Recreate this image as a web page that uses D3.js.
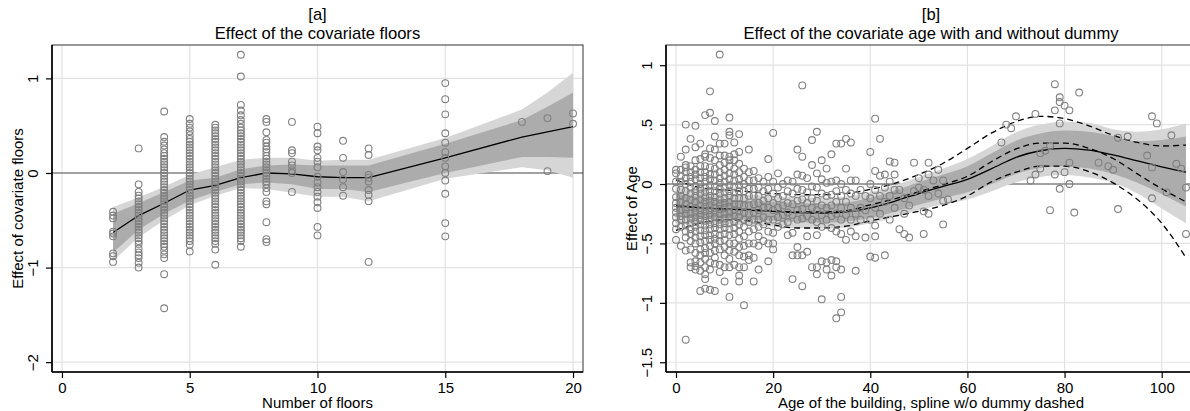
<!DOCTYPE html>
<html>
<head>
<meta charset="utf-8">
<script src="https://cdn.jsdelivr.net/npm/d3@7"></script>
<style>
body { margin: 0; background: #fff; }
text { font-family: "Liberation Sans", Arial, Helvetica, sans-serif; fill: #000; }
</style>
</head>
<body>
<svg id="chart" width="1190" height="411"></svg>
<script>
// ---- panel [a]: floors ----
var floorGrid = [2, 3, 4, 5, 6, 7, 8, 9, 10, 11, 12, 15, 18, 19, 20];
var floorFit = [-0.63, -0.45, -0.32, -0.18, -0.13, -0.05, 0.0, -0.01, -0.04, -0.05, -0.05, 0.16, 0.38, 0.435, 0.49];
var floorInnerLo = [-0.84, -0.6, -0.43, -0.29, -0.2, -0.12, -0.1, -0.12, -0.17, -0.17, -0.2, 0.0, 0.17, 0.17, 0.16];
var floorInnerHi = [-0.43, -0.32, -0.2, -0.08, -0.05, 0.04, 0.08, 0.09, 0.08, 0.08, 0.08, 0.31, 0.56, 0.7, 0.85];
var floorOuterLo = [-0.93, -0.68, -0.5, -0.34, -0.24, -0.16, -0.17, -0.21, -0.25, -0.25, -0.3, -0.06, 0.06, 0.03, -0.05];
var floorOuterHi = [-0.36, -0.26, -0.145, -0.02, 0.06, 0.14, 0.16, 0.16, 0.13, 0.14, 0.14, 0.37, 0.67, 0.85, 1.06];

var floorCols = [2, 3, 4, 5, 6, 7, 8, 9, 10, 11, 12, 15, 18, 19, 20];
var floorVals = [
  [-0.41, -0.45, -0.48, -0.62, -0.64, -0.67, -0.85, -0.88, -0.94],
  [0.26, -0.12, -0.2, -0.24, -0.27, -0.3, -0.33, -0.36, -0.39, -0.42, -0.45, -0.48, -0.51, -0.54, -0.57, -0.6, -0.63, -0.66, -0.69, -0.72, -0.75, -0.8, -0.84, -0.87, -0.9, -0.95, -1.0],
  [0.65, 0.38, 0.33, 0.29, 0.25, 0.21, 0.18, 0.15, 0.12, 0.09, 0.06, 0.03, 0.0, -0.03, -0.06, -0.09, -0.12, -0.15, -0.18, -0.21, -0.24, -0.27, -0.3, -0.33, -0.36, -0.39, -0.42, -0.45, -0.48, -0.51, -0.54, -0.57, -0.6, -0.63, -0.66, -0.69, -0.72, -0.75, -0.78, -0.82, -0.86, -0.9, -1.07, -1.43],
  [0.57, 0.52, 0.48, 0.44, 0.4, 0.36, 0.33, 0.3, 0.27, 0.24, 0.21, 0.18, 0.15, 0.12, 0.09, 0.06, 0.03, 0.0, -0.03, -0.06, -0.09, -0.12, -0.15, -0.18, -0.21, -0.24, -0.27, -0.3, -0.33, -0.36, -0.39, -0.42, -0.45, -0.48, -0.51, -0.54, -0.57, -0.6, -0.63, -0.66, -0.69, -0.72, -0.76, -0.83],
  [0.51, 0.48, 0.45, 0.42, 0.39, 0.36, 0.33, 0.3, 0.27, 0.24, 0.21, 0.18, 0.15, 0.12, 0.09, 0.06, 0.03, 0.0, -0.03, -0.06, -0.09, -0.12, -0.15, -0.18, -0.21, -0.24, -0.27, -0.3, -0.33, -0.36, -0.39, -0.42, -0.45, -0.48, -0.51, -0.54, -0.57, -0.6, -0.63, -0.66, -0.69, -0.72, -0.75, -0.81, -0.97],
  [1.25, 1.02, 0.72, 0.66, 0.61, 0.56, 0.52, 0.48, 0.45, 0.42, 0.39, 0.36, 0.33, 0.3, 0.27, 0.24, 0.21, 0.18, 0.15, 0.12, 0.09, 0.06, 0.03, 0.0, -0.03, -0.06, -0.09, -0.12, -0.15, -0.18, -0.21, -0.24, -0.27, -0.3, -0.33, -0.36, -0.39, -0.42, -0.45, -0.48, -0.51, -0.54, -0.57, -0.6, -0.63, -0.66, -0.69, -0.72, -0.78],
  [0.57, 0.54, 0.43, 0.35, 0.32, 0.28, 0.25, 0.22, 0.18, 0.15, 0.12, 0.09, 0.06, 0.03, 0.0, -0.03, -0.06, -0.09, -0.12, -0.16, -0.2, -0.3, -0.33, -0.52, -0.7, -0.73],
  [0.54, 0.24, 0.21, 0.12, 0.08, 0.03, 0.0, -0.2],
  [0.49, 0.42, 0.28, 0.24, 0.16, 0.12, 0.06, -0.04, -0.1, -0.15, -0.2, -0.25, -0.31, -0.37, -0.57, -0.66],
  [0.34, 0.16, 0.01, -0.07, -0.15, -0.24],
  [0.26, 0.19, -0.02, -0.05, -0.09, -0.18, -0.23, -0.3, -0.94],
  [0.95, 0.78, 0.62, 0.42, 0.32, 0.22, 0.16, 0.07, 0.0, -0.08, -0.22, -0.53, -0.67],
  [0.54],
  [0.58, 0.02],
  [0.63, 0.52]
];

// ---- panel [b]: age ----
var ageGrid = [0, 5, 10, 15, 20, 25, 30, 35, 40, 45, 50, 55, 60, 65, 70, 75, 80, 85, 90, 95, 100, 105];
var ageFit = [-0.18, -0.2, -0.21, -0.22, -0.23, -0.24, -0.245, -0.235, -0.2, -0.145, -0.08, -0.02, 0.04, 0.13, 0.225, 0.28, 0.3, 0.285, 0.245, 0.195, 0.145, 0.1];
var ageInnerLo = [-0.28, -0.29, -0.29, -0.3, -0.31, -0.32, -0.325, -0.315, -0.285, -0.235, -0.175, -0.12, -0.07, 0.0, 0.085, 0.135, 0.15, 0.13, 0.085, 0.01, -0.085, -0.19];
var ageInnerHi = [-0.08, -0.11, -0.13, -0.14, -0.15, -0.16, -0.165, -0.155, -0.115, -0.055, 0.015, 0.08, 0.15, 0.26, 0.365, 0.425, 0.45, 0.44, 0.405, 0.36, 0.37, 0.4];
var ageOuterLo = [-0.34, -0.34, -0.34, -0.35, -0.36, -0.37, -0.375, -0.365, -0.33, -0.28, -0.22, -0.17, -0.13, -0.06, 0.015, 0.06, 0.075, 0.055, 0.01, -0.08, -0.205, -0.33];
var ageOuterHi = [-0.02, -0.06, -0.08, -0.09, -0.1, -0.11, -0.115, -0.105, -0.07, -0.01, 0.06, 0.13, 0.21, 0.32, 0.435, 0.5, 0.525, 0.515, 0.46, 0.44, 0.46, 0.51];
// spline without dummy (dashed)
var ageNoDumFit = [-0.19, -0.2, -0.21, -0.215, -0.225, -0.235, -0.235, -0.225, -0.175, -0.125, -0.065, -0.005, 0.065, 0.19, 0.295, 0.345, 0.345, 0.3, 0.215, 0.085, -0.04, -0.15];
var ageNoDumLo = [-0.39, -0.33, -0.3, -0.31, -0.345, -0.37, -0.37, -0.355, -0.31, -0.27, -0.23, -0.18, -0.1, 0.02, 0.1, 0.15, 0.15, 0.105, 0.01, -0.13, -0.33, -0.62];
var ageNoDumHi = [0.034, -0.03, -0.05, -0.065, -0.08, -0.09, -0.09, -0.08, -0.045, 0.005, 0.08, 0.175, 0.3, 0.43, 0.525, 0.57, 0.55, 0.49, 0.41, 0.35, 0.32, 0.328];

var ageCols = [0, 1, 2, 3, 4, 5, 6, 7, 8, 9, 10, 11, 12, 13, 14, 15, 16, 17, 18, 19, 20, 21, 22, 23, 24, 25, 26, 27, 28, 29, 30, 31, 32, 33, 34, 35, 36, 37, 38, 39, 40, 41, 42, 43, 44, 45, 46, 47, 48, 49, 50, 51, 52, 53, 54, 55, 56, 67, 68, 69, 70, 73, 74, 75, 76, 77, 78, 79, 80, 81, 82, 83, 87, 89, 90, 91, 93, 97, 98, 99, 101, 102, 103, 104, 105];
var ageVals = [
  [0.12, 0.09, 0.02, -0.04, -0.11, -0.16, -0.2, -0.24, -0.28, -0.33, -0.38, -0.47],
  [0.23, 0.12, 0.07, 0.02, -0.05, -0.1, -0.15, -0.22, -0.27, -0.3, -0.36, -0.52],
  [0.5, 0.29, 0.16, 0.14, 0.1, 0.05, 0, -0.06, -0.12, -0.17, -0.21, -0.25, -0.3, -0.35, -0.4, -0.45, -0.56, -1.31],
  [0.38, 0.15, 0.1, 0.06, 0.02, -0.03, -0.08, -0.13, -0.19, -0.25, -0.29, -0.33, -0.38, -0.42, -0.48, -0.55, -0.66, -0.7],
  [0.49, 0.31, 0.2, 0.12, 0.08, 0.04, -0.02, -0.06, -0.1, -0.15, -0.2, -0.24, -0.28, -0.32, -0.36, -0.4, -0.45, -0.5, -0.58, -0.65, -0.69, -0.72],
  [0.34, 0.21, 0.15, 0.1, 0.05, 0, -0.04, -0.08, -0.13, -0.18, -0.22, -0.26, -0.3, -0.34, -0.39, -0.44, -0.49, -0.55, -0.6, -0.66, -0.73, -0.9],
  [0.58, 0.25, 0.23, 0.15, 0.1, 0.06, 0.02, -0.03, -0.07, -0.11, -0.15, -0.19, -0.23, -0.27, -0.31, -0.35, -0.39, -0.43, -0.48, -0.54, -0.58, -0.63, -0.7, -0.76, -0.8, -0.88],
  [0.78, 0.6, 0.3, 0.22, 0.14, 0.08, 0.04, -0.01, -0.06, -0.1, -0.14, -0.18, -0.22, -0.26, -0.3, -0.34, -0.38, -0.43, -0.47, -0.52, -0.58, -0.66, -0.72, -0.89],
  [0.53, 0.4, 0.29, 0.2, 0.13, 0.08, 0.03, -0.02, -0.06, -0.11, -0.15, -0.2, -0.24, -0.28, -0.33, -0.37, -0.42, -0.46, -0.5, -0.56, -0.62, -0.67, -0.9],
  [1.09, 0.34, 0.24, 0.16, 0.1, 0.05, 0.01, -0.04, -0.08, -0.13, -0.17, -0.21, -0.25, -0.3, -0.34, -0.38, -0.43, -0.48, -0.55, -0.68, -0.74],
  [0.34, 0.24, 0.18, 0.12, 0.07, 0.02, -0.03, -0.07, -0.12, -0.16, -0.2, -0.25, -0.29, -0.33, -0.37, -0.42, -0.47, -0.53, -0.6, -0.7, -0.82],
  [0.56, 0.44, 0.41, 0.23, 0.2, 0.15, 0.09, 0.04, -0.01, -0.06, -0.1, -0.15, -0.19, -0.24, -0.28, -0.33, -0.38, -0.43, -0.5, -0.56, -0.63, -0.7, -0.95],
  [0.35, 0.25, 0.2, 0.13, 0.08, 0.03, -0.02, -0.07, -0.12, -0.17, -0.22, -0.27, -0.32, -0.37, -0.42, -0.5, -0.57, -0.68],
  [0.42, 0.27, 0.17, 0.1, 0.04, -0.01, -0.06, -0.12, -0.17, -0.23, -0.28, -0.34, -0.4, -0.46, -0.53, -0.6, -0.7, -0.77, -0.82],
  [0.13, 0.06, 0, -0.06, -0.12, -0.18, -0.24, -0.3, -0.36, -0.44, -0.52, -0.61, -0.7, -1.02],
  [0.29, 0.1, 0.03, -0.04, -0.1, -0.18, -0.25, -0.32, -0.4, -0.5, -0.6, -0.64],
  [0.11, 0.03, -0.04, -0.1, -0.17, -0.24, -0.3, -0.38, -0.5, -0.62, -0.82],
  [0.05, -0.03, -0.1, -0.16, -0.22, -0.3, -0.36, -0.44, -0.52, -0.72],
  [0.02, -0.06, -0.14, -0.2, -0.28, -0.34, -0.48],
  [0.21, 0.06, -0.04, -0.12, -0.2, -0.3, -0.4, -0.5, -0.65],
  [0.43, 0.02, -0.08, -0.16, -0.22, -0.3, -0.41, -0.5, -0.55],
  [0.09, -0.03, -0.12, -0.2, -0.28, -0.36],
  [0, -0.1, -0.18, -0.26, -0.34],
  [0.03, -0.06, -0.16, -0.24, -0.32, -0.43],
  [0.02, -0.08, -0.17, -0.26, -0.41, -0.6, -0.8],
  [0.29, 0.08, -0.04, -0.14, -0.22, -0.3, -0.53, -0.6],
  [0.83, 0.23, 0.07, -0.05, -0.13, -0.21, -0.29, -0.6, -0.86],
  [0.05, -0.07, -0.16, -0.27, -0.44, -0.57],
  [0.37, 0.16, -0.02, -0.12, -0.2, -0.3, -0.7],
  [0.44, 0.09, -0.03, -0.14, -0.22, -0.32, -0.43, -0.7, -0.76],
  [0.2, 0.04, -0.08, -0.18, -0.26, -0.36, -0.65, -0.97],
  [0.13, 0.01, -0.1, -0.2, -0.3, -0.66, -0.72],
  [0.25, 0.02, -0.09, -0.18, -0.27, -0.37, -0.64, -0.77],
  [0.34, 0.03, -0.06, -0.15, -0.25, -0.4, -0.65, -0.7, -1.13],
  [0.34, 0, -0.1, -0.2, -0.3, -0.42, -0.72, -0.95, -1.08],
  [0.38, 0.13, -0.05, -0.15, -0.26, -0.47],
  [0.35, 0.03, -0.08, -0.2, -0.3, -0.4],
  [0.03, -0.1, -0.25, -0.44, -0.73],
  [-0.05, -0.2, -0.3],
  [-0.1, -0.22, -0.45],
  [0.27, 0, -0.12, -0.3, -0.61],
  [0.55, 0.11, -0.05, -0.2, -0.35, -0.44, -0.62],
  [0.38, 0.07, -0.1, -0.25],
  [0.08, -0.03, -0.15, -0.6],
  [0.19, 0.02, -0.1, -0.3],
  [0.18, 0.08, -0.05, -0.2],
  [-0.05, -0.38],
  [-0.12, -0.25, -0.42],
  [-0.18, -0.45],
  [0.18, -0.06],
  [0.05, -0.03],
  [-0.05, -0.23, -0.42],
  [0.18, 0.08, -0.1, -0.25],
  [0.03],
  [0.12, -0.08],
  [0.03, -0.14, -0.34],
  [-0.13],
  [0.35],
  [0.5],
  [0.47],
  [0.57],
  [0.03],
  [0.59, 0.08],
  [0.26, 0.13],
  [0.28],
  [0.32, -0.22],
  [0.84, 0.62, 0.08],
  [0.73, 0.69, 0.51, -0.04],
  [0.66, 0.1],
  [0.62, 0.18, 0],
  [-0.24],
  [0.77],
  [0.18],
  [0.15],
  [0.12],
  [0.39, -0.21],
  [0.4],
  [0.24],
  [0.57, 0.14, -0.12],
  [0.51],
  [-0.07],
  [0.41],
  [0.17],
  [0.13],
  [-0.03, -0.42]
];

var floorXTicks = [0, 5, 10, 15, 20];
var floorYTicks = [-2, -1, 0, 1];
var ageXTicks = [0, 20, 40, 60, 80, 100];
var ageYTicks = [-1.5, -1, -0.5, 0, 0.5, 1];

var svg = d3.select('#chart');
var lightBand = '#d6d6d6', darkBand = '#acacac', ptColor = '#808080';

function flatten(cols, vals) {
  var pts = [];
  cols.forEach(function(c, i) { vals[i].forEach(function(v) { pts.push([c, v]); }); });
  return pts;
}

function drawPanel(o) {
  var x = o.x, y = o.y;
  var x0 = x.range()[0], x1 = x.range()[1], yb = y.range()[0], yt = y.range()[1];
  var g = svg.append('g');

  svg.append('clipPath').attr('id', 'clip' + o.id)
    .append('rect').attr('x', x0).attr('y', yt).attr('width', x1 - x0).attr('height', yb - yt);

  // grid
  g.selectAll('.gx').data(o.xTicks).enter().append('line')
    .attr('x1', d => x(d)).attr('x2', d => x(d)).attr('y1', yt).attr('y2', yb)
    .attr('stroke', '#e2e2e2').attr('stroke-width', 1.2);
  g.selectAll('.gy').data(o.yTicks.filter(d => d !== 0)).enter().append('line')
    .attr('x1', x0).attr('x2', x1).attr('y1', d => y(d)).attr('y2', d => y(d))
    .attr('stroke', '#e2e2e2').attr('stroke-width', 1.2);
  // reference line at zero
  g.append('line').attr('x1', x0).attr('x2', x1).attr('y1', y(0)).attr('y2', y(0))
    .attr('stroke', '#444').attr('stroke-width', 1.1);

  var plot = g.append('g').attr('clip-path', 'url(#clip' + o.id + ')');
  var grid = o.grid;
  var area = function(lo, hi) {
    return d3.area().curve(o.curve).x((d, i) => x(grid[i])).y0((d, i) => y(lo[i])).y1((d, i) => y(hi[i]))(grid);
  };
  var line = function(vals) {
    return d3.line().curve(o.curve).x((d, i) => x(grid[i])).y((d, i) => y(vals[i]))(grid);
  };
  plot.append('path').attr('d', area(o.outerLo, o.outerHi)).attr('fill', lightBand);
  plot.append('path').attr('d', area(o.innerLo, o.innerHi)).attr('fill', darkBand);

  plot.append('path').attr('d', line(o.fit)).attr('fill', 'none').attr('stroke', '#000').attr('stroke-width', 1.3);
  (o.dashed || []).forEach(function(vals) {
    plot.append('path').attr('d', line(vals)).attr('fill', 'none').attr('stroke', '#000')
      .attr('stroke-width', 1.3).attr('stroke-dasharray', '6,4');
  });

  plot.selectAll('circle').data(o.points).enter().append('circle')
    .attr('cx', d => x(d[0])).attr('cy', d => y(d[1])).attr('r', 3.4)
    .attr('fill', 'none').attr('stroke', ptColor).attr('stroke-width', 1.1);

  // frame and axes
  g.append('rect').attr('x', x0).attr('y', yt).attr('width', x1 - x0).attr('height', yb - yt)
    .attr('fill', 'none').attr('stroke', '#333').attr('stroke-width', 1);
  g.append('line').attr('x1', x0).attr('x2', x1).attr('y1', yb).attr('y2', yb).attr('stroke', '#000').attr('stroke-width', 1.6);
  g.append('line').attr('x1', x0).attr('x2', x0).attr('y1', yt).attr('y2', yb).attr('stroke', '#000').attr('stroke-width', 1.6);

  var xa = g.append('g').attr('transform', 'translate(0,' + yb + ')')
    .call(d3.axisBottom(x).tickValues(o.xTicks).tickSize(6).tickSizeOuter(0));
  xa.select('.domain').remove();
  xa.selectAll('line').attr('stroke', '#000').attr('stroke-width', 1.2);
  xa.selectAll('text').attr('y', 21).attr('dy', 0).style('font-size', '15px');

  var ya = g.append('g').attr('transform', 'translate(' + x0 + ',0)')
    .call(d3.axisLeft(y).tickValues(o.yTicks).tickSize(6).tickSizeOuter(0).tickFormat(o.yFormat));
  ya.select('.domain').remove();
  ya.selectAll('line').attr('stroke', '#000').attr('stroke-width', 1.2);
  ya.selectAll('text').attr('x', 0).attr('y', -14.5).attr('dy', 0)
    .attr('text-anchor', 'middle').attr('transform', 'rotate(-90)').style('font-size', '15px');

  var cx = (x0 + x1) / 2;
  g.append('text').attr('x', cx).attr('y', 20).attr('text-anchor', 'middle').style('font-size', '16.6px').text(o.tag);
  g.append('text').attr('x', cx).attr('y', 39).attr('text-anchor', 'middle').style('font-size', '16.6px').text(o.title);
  g.append('text').attr('x', cx).attr('y', 408).attr('text-anchor', 'middle').style('font-size', '15px').text(o.xTitle);
  g.append('text').attr('transform', 'translate(' + (x0 - 29) + ',' + ((yt + yb) / 2) + ') rotate(-90)')
    .attr('text-anchor', 'middle').style('font-size', '15px').text(o.yTitle);
}

drawPanel({
  id: 'a',
  x: d3.scaleLinear().domain([-0.39, 20.39]).range([52, 583]),
  y: d3.scaleLinear().domain([-2.104, 1.353]).range([372, 45]),
  xTicks: floorXTicks, yTicks: floorYTicks,
  yFormat: d3.format('d'),
  curve: d3.curveLinear,
  grid: floorGrid, fit: floorFit,
  innerLo: floorInnerLo, innerHi: floorInnerHi, outerLo: floorOuterLo, outerHi: floorOuterHi,
  points: flatten(floorCols, floorVals),
  tag: '[a]', title: 'Effect of the covariate floors',
  xTitle: 'Number of floors', yTitle: 'Effect of covariate floors'
});

drawPanel({
  id: 'b',
  x: d3.scaleLinear().domain([-2.06, 107.06]).range([666, 1196]),
  y: d3.scaleLinear().domain([-1.582, 1.17]).range([372, 45]),
  xTicks: ageXTicks, yTicks: ageYTicks,
  yFormat: function(d) { return d === 0 ? '0' : (d < 0 ? '\u2212' : '') + String(Math.abs(d)).replace(/^0/, ''); },
  curve: d3.curveMonotoneX,
  grid: ageGrid, fit: ageFit,
  innerLo: ageInnerLo, innerHi: ageInnerHi, outerLo: ageOuterLo, outerHi: ageOuterHi,
  dashed: [ageNoDumFit, ageNoDumLo, ageNoDumHi],
  points: flatten(ageCols, ageVals),
  tag: '[b]', title: 'Effect of the covariate age with and without dummy',
  xTitle: 'Age of the building, spline w/o dummy dashed', yTitle: 'Effect of Age'
});
</script>
</body>
</html>
